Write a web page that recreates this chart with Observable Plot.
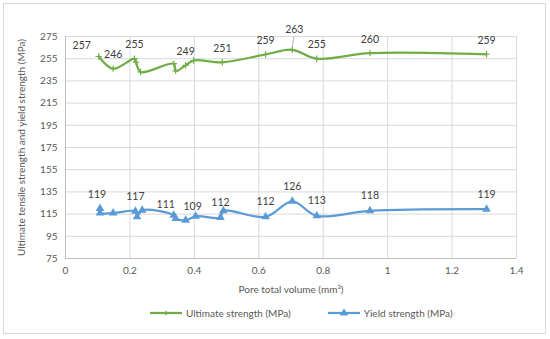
<!DOCTYPE html>
<html>
<head>
<meta charset="utf-8">
<script src="https://cdn.jsdelivr.net/npm/d3@7"></script>
<script src="https://cdn.jsdelivr.net/npm/@observablehq/plot@0.6"></script>
<style>
  body { margin: 0; background: #fff; font-family: Lato, "Liberation Sans", sans-serif; }
  #frame { position: absolute; left: 3px; top: 3px; width: 541px; height: 329px; border: 1px solid #d9d9d9; }
  #chart { position: absolute; left: 0; top: 0; }
  #legend { position: absolute; left: 150px; top: 307px; display: flex; align-items: center; font-size: 10px; color: #595959; line-height: 12px; }
  .item { display: flex; align-items: center; }
  .item svg { display: block; }
  .item span { margin-left: 4px; }
</style>
</head>
<body>
<div id="frame"></div>
<div id="chart"></div>
<div id="legend"></div>
<script>
// ---- data ----
const seriesNames = ["Ultimate strength (MPa)", "Yield strength (MPa)"];
const seriesColors = ["#70ad47", "#5b9bd5"];

const poreVolumeUlt = [0.103, 0.148, 0.214, 0.219, 0.233, 0.336, 0.342, 0.373, 0.398, 0.487, 0.621, 0.704, 0.780, 0.945, 1.307];
const ultimateStrength = [257, 246, 255, 252, 243, 250.5, 244, 249, 253.4, 251.8, 258.8, 263, 255, 260, 259];
const ultimateLabels = [257, 246, 255, null, null, null, null, 249, null, 251, 259, 263, 255, 260, 259];

const poreVolumeYield = [0.107, 0.107, 0.148, 0.217, 0.222, 0.238, 0.336, 0.342, 0.373, 0.404, 0.481, 0.490, 0.621, 0.704, 0.780, 0.945, 1.307];
const yieldStrength = [120, 116, 116, 117.5, 112.5, 118.5, 114, 111, 109.5, 113, 112, 118, 112.5, 126.5, 113.4, 118, 119.4];
const yieldLabels = [119, null, null, 117, null, null, 111, null, 109, null, 112, null, 112, 126, 113, 118, 119];

const xTicks = [0, 0.2, 0.4, 0.6, 0.8, 1, 1.2, 1.4];
const yTicks = [75, 95, 115, 135, 155, 175, 195, 215, 235, 255, 275];

const xTitle = "Pore total volume (mm³)";
const yTitle = "Ultimate tensile strength and yield strength (MPa)";

// ---- tables ----
const ult = poreVolumeUlt.map((x, i) => ({x, y: ultimateStrength[i], label: ultimateLabels[i], i}));
const yld = poreVolumeYield.map((x, i) => ({x, y: yieldStrength[i], label: yieldLabels[i], i}));
const ultLab = ult.filter(d => d.label != null);
const yldLab = yld.filter(d => d.label != null);

const labelFont = {fill: "#404040", fontSize: 10.5};
const leader = {draw(ctx, l) { ctx.moveTo(0, 0); ctx.lineTo(0, -l); }};

const chart = Plot.plot({
  width: 550,
  height: 300,
  marginLeft: 65,
  marginRight: 34,
  marginTop: 36,
  marginBottom: 42,
  style: {fontFamily: "Lato, 'Liberation Sans', sans-serif", background: "transparent"},
  x: {domain: [0, 1.4]},
  y: {domain: [75, 275]},
  marks: [
    Plot.gridX(xTicks, {stroke: "#d9d9d9", strokeOpacity: 1}),
    Plot.gridY(yTicks, {stroke: "#d9d9d9", strokeOpacity: 1}),
    Plot.ruleY([75], {stroke: "#bfbfbf"}),
    Plot.ruleX([0], {stroke: "#bfbfbf"}),
    Plot.axisX({ticks: xTicks, tickFormat: d3.format("~g"), tickSize: 0, tickPadding: 8, fontSize: 10, fill: "#595959", label: null}),
    Plot.axisY({ticks: yTicks, tickSize: 0, tickPadding: 8, fontSize: 10, fill: "#595959", label: null}),
    Plot.text([xTitle], {frameAnchor: "bottom", dy: 34, fontSize: 10, fill: "#595959"}),
    Plot.text([yTitle], {frameAnchor: "left", textAnchor: "middle", dx: -44, rotate: -90, fontSize: 10, fill: "#595959"}),

    Plot.line(ult, {x: "x", y: "y", stroke: seriesColors[0], strokeWidth: 2.25, curve: "catmull-rom"}),
    Plot.dot(ult, {x: "x", y: "y", symbol: "plus", r: 2.2, stroke: seriesColors[0], strokeWidth: 1.2}),
    Plot.line(yld, {x: "x", y: "y", stroke: seriesColors[1], strokeWidth: 2.25, curve: "catmull-rom"}),
    Plot.dot(yld, {x: "x", y: "y", symbol: "triangle", r: 3.2, fill: seriesColors[1]}),

    // data labels (ultimate)
    Plot.text(ultLab.filter(d => d.i !== 0 && d.i !== 11), {x: "x", y: "y", text: "label", dy: -14, ...labelFont}),
    Plot.text(ultLab.filter(d => d.i === 0), {x: "x", y: "y", text: "label", dx: -17, dy: -11, ...labelFont}),
    Plot.text(ultLab.filter(d => d.i === 11), {x: "x", y: "y", text: "label", dx: 2, dy: -20, ...labelFont}),
    Plot.vector(ult.filter(d => d.i === 11), {x: "x", y: "y", length: 10, rotate: 10, anchor: "start", dy: -3, shape: leader, stroke: "#a6a6a6", strokeWidth: 0.8}),

    // data labels (yield)
    Plot.text(yldLab.filter(d => ![0, 6, 8].includes(d.i)), {x: "x", y: "y", text: "label", dy: -15, ...labelFont}),
    Plot.text(yldLab.filter(d => d.i === 0), {x: "x", y: "y", text: "label", dx: -3, dy: -14, ...labelFont}),
    Plot.text(yldLab.filter(d => d.i === 6), {x: "x", y: "y", text: "label", dx: -8, dy: -11, ...labelFont}),
    Plot.text(yldLab.filter(d => d.i === 8), {x: "x", y: "y", text: "label", dx: 7, dy: -14, ...labelFont})
  ]
});
document.getElementById("chart").appendChild(chart);

// ---- legend ----
const legend = d3.select("#legend");
seriesNames.forEach((name, k) => {
  const item = legend.append("div").attr("class", "item").style("margin-left", k ? "37px" : "0px");
  const s = item.append("svg").attr("width", 32).attr("height", 10);
  s.append("line").attr("x1", 0).attr("x2", 32).attr("y1", 5).attr("y2", 5)
    .attr("stroke", seriesColors[k]).attr("stroke-width", 2.25);
  if (k === 0) {
    s.append("path").attr("d", "M16,2.8V7.2M13.8,5H18.2").attr("stroke", seriesColors[k]).attr("stroke-width", 1.2);
  } else {
    s.append("path").attr("d", d3.symbol(d3.symbolTriangle, 30)()).attr("transform", "translate(16,5)").attr("fill", seriesColors[k]);
  }
  item.append("span").text(name);
});
</script>
</body>
</html>
